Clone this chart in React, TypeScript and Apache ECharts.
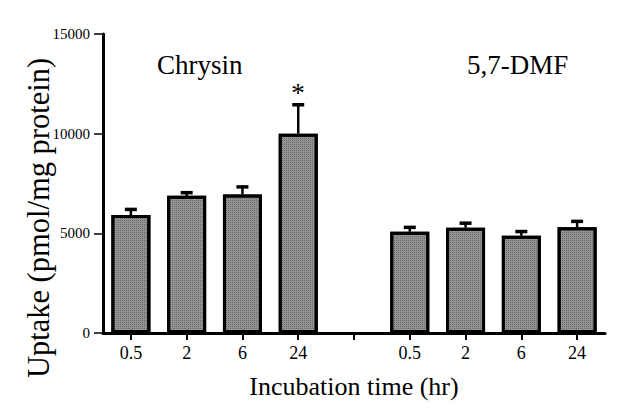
import React, { useEffect, useRef } from "react";
import * as echarts from "echarts";

const categories = ["0.5", "2", "6", "24", "", "0.5", "2", "6", "24"];
const meanValues: (number | null)[] = [5920, 6880, 6950, 10000, null, 5080, 5280, 4880, 5300];
const errorValues: (number | null)[] = [280, 160, 380, 1450, null, 220, 230, 210, 300];
const yTicks = [0, 5000, 10000, 15000];

const FONT = "Liberation Serif";

export default function App() {
  const ref = useRef<HTMLDivElement>(null);
  useEffect(() => {
    if (!ref.current) return;
    const chart = echarts.init(ref.current, undefined, { renderer: "svg" });
    const errData = meanValues.map((v, i) =>
      v == null ? [i, null, null] : [i, v, v + (errorValues[i] as number)]
    );
    chart.setOption({
      animation: false,
      backgroundColor: "#ffffff",
      textStyle: { fontFamily: FONT },
      grid: { left: 103, right: 25, top: 34, bottom: 83, containLabel: false },
      xAxis: {
        type: "category",
        data: categories,
        boundaryGap: true,
        axisLine: { show: true, lineStyle: { color: "#000", width: 3 } },
        axisTick: { show: true, alignWithLabel: true, interval: 0, length: 7, lineStyle: { color: "#000", width: 2 } },
        axisLabel: { interval: 0, color: "#000", fontFamily: FONT, fontSize: 18, margin: 11 },
        name: "Incubation time (hr)",
        nameLocation: "middle",
        nameGap: 40,
        nameTextStyle: { color: "#000", fontFamily: FONT, fontSize: 26 },
      },
      yAxis: {
        type: "value",
        min: yTicks[0],
        max: yTicks[yTicks.length - 1],
        interval: 5000,
        splitLine: { show: false },
        axisLine: { show: true, lineStyle: { color: "#000", width: 3 } },
        axisTick: { show: true, length: 9, lineStyle: { color: "#000", width: 1.5 } },
        axisLabel: {
          color: "#000",
          fontFamily: FONT,
          fontSize: 15,
          margin: 13,
          formatter: (v: number) => String(v),
        },
      },
      series: [
        {
          type: "bar",
          data: meanValues,
          barWidth: 39,
          itemStyle: {
            color: "#939393",
            borderColor: "#000",
            borderWidth: 3,
            decal: {
              symbol: "rect",
              symbolSize: 1,
              color: "rgba(60,60,60,0.45)",
              dashArrayX: [1, 1],
              dashArrayY: [1, 1],
              rotation: 0,
            },
          },
          z: 2,
        },
        {
          type: "custom",
          data: errData,
          z: 3,
          renderItem: (params: any, api: any) => {
            const m = api.value(1);
            const t = api.value(2);
            if (m == null || isNaN(m)) return null;
            const idx = api.value(0);
            const p0 = api.coord([idx, m]);
            const p1 = api.coord([idx, t]);
            const half = 6;
            return {
              type: "group",
              children: [
                {
                  type: "line",
                  shape: { x1: p0[0], y1: p0[1], x2: p1[0], y2: p1[1] },
                  style: { stroke: "#000", lineWidth: 2.5 },
                },
                {
                  type: "line",
                  shape: { x1: p1[0] - half, y1: p1[1], x2: p1[0] + half, y2: p1[1] },
                  style: { stroke: "#000", lineWidth: 3.5 },
                },
              ],
            };
          },
        },
      ],
      graphic: [
        {
          type: "text",
          x: 39,
          y: 218,
          rotation: Math.PI / 2,
          style: {
            text: "Uptake (pmol/mg protein)",
            fill: "#000",
            fontFamily: FONT,
            fontSize: 30.5,
            textAlign: "center",
            textVerticalAlign: "middle",
          },
        },
        {
          type: "text",
          left: 157,
          top: 51,
          style: { text: "Chrysin", fill: "#000", fontFamily: FONT, fontSize: 27 },
        },
        {
          type: "text",
          left: 467,
          top: 51,
          style: { text: "5,7-DMF", fill: "#000", fontFamily: FONT, fontSize: 27 },
        },
        {
          type: "text",
          x: 298,
          y: 79,
          style: {
            text: "*",
            fill: "#000",
            fontFamily: FONT,
            fontSize: 27,
            textAlign: "center",
            textVerticalAlign: "top",
          },
        },
      ],
    });
    return () => chart.dispose();
  }, []);
  return (
    <div
      ref={ref}
      style={{ position: "absolute", left: 0, top: 0, width: 630, height: 416 }}
    />
  );
}
